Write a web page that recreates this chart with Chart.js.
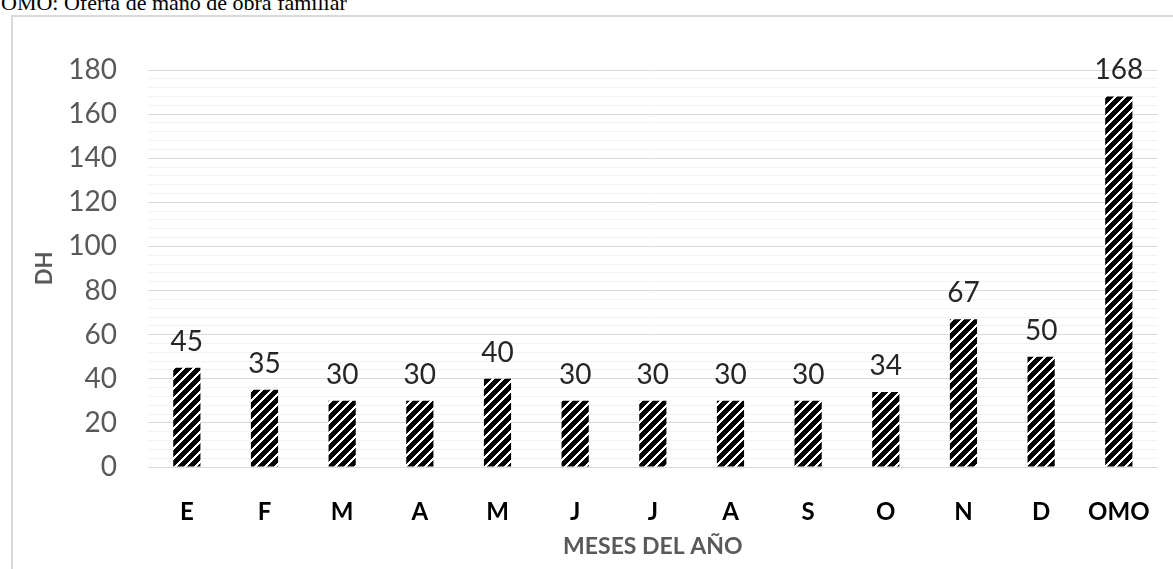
<!DOCTYPE html>
<html>
<head>
<meta charset="utf-8">
<script src="https://cdn.jsdelivr.net/npm/chart.js@4.4.1/dist/chart.umd.min.js"></script>
<style>
  html, body { margin: 0; padding: 0; background: #fff; overflow: hidden; }
  #wrap { position: relative; width: 1173px; height: 569px; overflow: hidden; }
  #note {
    position: absolute; left: 1px; top: -10px;
    font: 22px "Liberation Serif", "Times New Roman", serif;
    color: #000; white-space: nowrap; line-height: 26px;
  }
  #frame {
    position: absolute; left: 11px; top: 15px; width: 1300px; height: 700px;
    border: 2px solid #d9d9d9; box-sizing: border-box;
  }
  #c { position: absolute; left: 0; top: 0; }
</style>
</head>
<body>
<div id="wrap">
  <div id="note">OMO: Oferta de mano de obra familiar</div>
  <div id="frame"></div>
  <canvas id="c" width="1173" height="569"></canvas>
</div>
<script>
// Monthly family labour supply (DH) and the yearly total (OMO)
const categories = ['E', 'F', 'M', 'A', 'M', 'J', 'J', 'A', 'S', 'O', 'N', 'D', 'OMO'];
const dhValues   = [45, 35, 30, 30, 40, 30, 30, 30, 30, 34, 67, 50, 168];
const yLabelStep = 20;   // labelled gridlines
const yMinorStep = 4;    // unlabelled minor gridlines
const yMax = 180;

// Diagonal "/" hatch: black fill with white stripes
function makeHatch() {
  const p = 10;
  const cv = document.createElement('canvas');
  cv.width = p; cv.height = p;
  const ctx = cv.getContext('2d');
  const img = ctx.createImageData(p, p);
  for (let y = 0; y < p; y++) {
    for (let x = 0; x < p; x++) {
      const white = ((x + y) % p) < 3;
      const i = (y * p + x) * 4;
      const v = white ? 255 : 0;
      img.data[i] = v; img.data[i + 1] = v; img.data[i + 2] = v; img.data[i + 3] = 255;
    }
  }
  ctx.putImageData(img, 0, 0);
  return ctx.createPattern(cv, 'repeat');
}

// Value labels above each bar, placed from the bar elements
const valueLabels = {
  id: 'valueLabels',
  afterDatasetsDraw(chart) {
    const ctx = chart.ctx;
    const meta = chart.getDatasetMeta(0);
    ctx.save();
    ctx.font = '28px Lato, "Open Sans", sans-serif';
    ctx.fillStyle = '#262626';
    ctx.textAlign = 'center';
    ctx.textBaseline = 'alphabetic';
    meta.data.forEach((bar, i) => {
      ctx.fillText(String(chart.data.datasets[0].data[i]), bar.x, bar.y - 17);
    });
    ctx.restore();
  }
};

function draw() {
  new Chart(document.getElementById('c'), {
    type: 'bar',
    data: {
      labels: categories,
      datasets: [{
        data: dhValues,
        backgroundColor: makeHatch(),
        borderWidth: 0,
        categoryPercentage: 1,
        barPercentage: 0.35
      }]
    },
    options: {
      responsive: false,
      animation: false,
      layout: { padding: { top: 70, right: 12, bottom: 0, left: 0 } },
      plugins: { legend: { display: false }, tooltip: { enabled: false } },
      scales: {
        x: {
          grid: { display: false },
          border: { display: false },
          ticks: {
            padding: 23,
            color: '#000',
            font: { family: 'Lato', size: 24, weight: 'bold' }
          },
          title: {
            display: true,
            text: 'MESES DEL AÑO',
            color: '#595959',
            font: { family: 'Lato', size: 23, weight: 'bold' },
            padding: { top: 0, bottom: 9 }
          },
          afterFit(scale) { scale.height = 102; }
        },
        y: {
          min: 0,
          max: yMax,
          border: { display: false },
          grid: {
            drawTicks: false,
            color: ctx => (ctx.tick && ctx.tick.value % yLabelStep === 0) ? '#d9d9d9' : '#f2f2f2',
            lineWidth: 1
          },
          ticks: {
            stepSize: yMinorStep,
            autoSkip: false,
            padding: 31,
            color: '#595959',
            font: { family: 'Lato', size: 28 },
            callback: v => (v % yLabelStep === 0 ? String(v) : '')
          },
          title: {
            display: true,
            text: 'DH',
            color: '#595959',
            font: { family: 'Lato', size: 22, weight: 'bold' },
            padding: { top: 32, bottom: 0 }
          },
          afterFit(scale) { scale.width = 148; }
        }
      }
    },
    plugins: [valueLabels]
  });
}

Promise.all([
  document.fonts.load('28px Lato'),
  document.fonts.load('bold 24px Lato')
]).then(draw, draw);
</script>
</body>
</html>
